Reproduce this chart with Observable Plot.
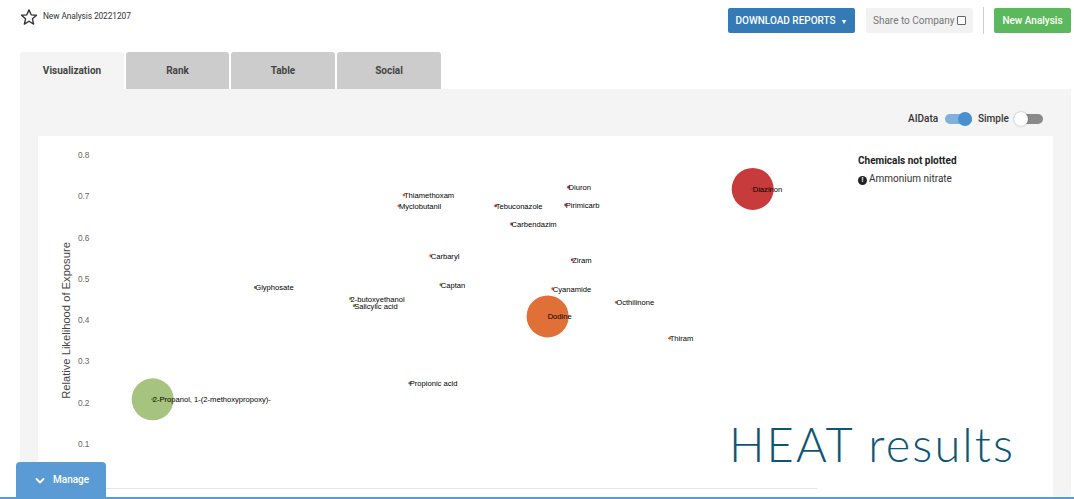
<!DOCTYPE html>
<html>
<head>
<meta charset="utf-8">
<script src="https://cdn.jsdelivr.net/npm/d3@7"></script>
<script src="https://cdn.jsdelivr.net/npm/@observablehq/plot@0.6"></script>
<style>
  html, body { margin: 0; padding: 0; width: 1074px; height: 499px; overflow: hidden; background: #fff; font-family: Roboto, "Noto Sans", sans-serif; }
  .abs { position: absolute; }
  .title { left: 43px; top: 11px; font-size: 8.4px; color: #333; letter-spacing: -0.1px; }
  .star { left: 20px; top: 8px; }
  .btn { top: 8px; height: 25px; line-height: 25px; font-size: 10px; border-radius: 2px; text-align: center; box-sizing: border-box; }
  .dl { left: 728px; width: 127px; background: #337ab7; color: #fff; font-weight: 500; }
  .share { left: 866px; width: 107px; background: #f2f2f2; color: #777; }
  .newa { left: 994px; width: 77px; background: #5cb85c; color: #fff; font-weight: 500; }
  .divider { left: 983px; top: 7px; width: 1px; height: 27px; background: #ccc; }
  .tab { top: 52px; height: 37px; line-height: 37px; font-size: 10px; font-weight: 700; color: #444; text-align: center; border-radius: 3px 3px 0 0; background: #cccccc; }
  .panel { left: 20px; top: 89px; width: 1051px; height: 420px; background: #f4f4f4; }
  .card { left: 38px; top: 136px; width: 1015px; height: 380px; background: #fff; }
  .tog-label { top: 113px; font-size: 10px; font-weight: 500; color: #333; }
  .track { top: 114px; width: 27px; height: 10px; border-radius: 5px; }
  .knob { top: 112px; width: 14px; height: 14px; border-radius: 7px; }
  .heat { left: 729px; top: 416px; font-family: Lato, sans-serif; font-weight: 300; font-size: 47px; color: #0f5675; letter-spacing: 2.1px; }
  .np-title { left: 858px; top: 155px; font-size: 10px; font-weight: 700; color: #222; }
  .np-item { left: 858px; top: 173px; font-size: 10px; color: #333; }
  .ic { display: inline-block; width: 9px; height: 9px; border-radius: 5px; background: #222; color: #fff; font-size: 7px; line-height: 9px; text-align: center; font-weight: 700; vertical-align: 0px; margin-right: 2px; }
  .manage { left: 16px; top: 462px; width: 90px; height: 40px; background: #5b9bd5; border-radius: 4px 4px 0 0; color: #fff; font-size: 10px; font-weight: 500; }
  #chart { left: 38px; top: 136px; }
</style>
</head>
<body>
<svg class="abs star" width="18" height="18" viewBox="0 0 24 24"><path d="M12 2.5l2.9 6.6 7.1.6-5.4 4.7 1.6 7-6.2-3.7-6.2 3.7 1.6-7L2 9.7l7.1-.6z" fill="none" stroke="#333" stroke-width="1.8" stroke-linejoin="round"/></svg>
<div class="abs title">New Analysis 20221207</div>
<div class="abs btn dl">DOWNLOAD REPORTS &nbsp;<span style="font-size:7px">&#9660;</span></div>
<div class="abs btn share">Share to Company <span style="display:inline-block;width:7px;height:7px;border:1px solid #666;border-radius:1px;vertical-align:-1px;background:#fff"></span></div>
<div class="abs divider"></div>
<div class="abs btn newa">New Analysis</div>

<div class="abs panel"></div>
<div class="abs tab" style="left:20px;width:104px;background:#f4f4f4;">Visualization</div>
<div class="abs tab" style="left:126px;width:103px;">Rank</div>
<div class="abs tab" style="left:231px;width:104px;">Table</div>
<div class="abs tab" style="left:337px;width:104px;">Social</div>

<div class="abs tog-label" style="left:908px;">AIData</div>
<div class="abs track" style="left:945px;background:#7fb0de;"></div>
<div class="abs knob" style="left:958px;background:#4a8fd0;"></div>
<div class="abs tog-label" style="left:978px;">Simple</div>
<div class="abs track" style="left:1016px;background:#8a8a8a;"></div>
<div class="abs knob" style="left:1014px;background:#fff;box-shadow:0 0 2px rgba(0,0,0,0.35);"></div>

<div class="abs card"></div>
<div class="abs" id="chart"></div>

<div class="abs np-title">Chemicals not plotted</div>
<div class="abs np-item"><span class="ic">!</span>Ammonium nitrate</div>

<div class="abs heat">HEAT results</div>

<div class="abs" style="left:38px;top:488px;width:779px;height:1px;background:#e4e4e4;"></div>
<div class="abs" style="left:0;top:497px;width:1074px;height:2px;background:#5b9bd5;"></div>
<div class="abs manage">
  <svg class="abs" style="left:19px;top:15px;" width="10" height="8" viewBox="0 0 10 8"><path d="M1.5 2 L5 5.5 L8.5 2" fill="none" stroke="#fff" stroke-width="1.8" stroke-linecap="round" stroke-linejoin="round"/></svg>
  <span class="abs" style="left:37px;top:12px;">Manage</span>
</div>

<script>
// Chemicals, their relative positions (x has no visible axis), likelihood (y) and risk level
const chemicals = ["2-Propanol, 1-(2-methoxypropoxy)-", "Glyphosate", "2-butoxyethanol", "Salicylic acid", "Thiamethoxam", "Myclobutanil", "Carbaryl", "Captan", "Propionic acid", "Tebuconazole", "Carbendazim", "Diuron", "Pirimicarb", "Ziram", "Cyanamide", "Dodine", "Octhilinone", "Thiram", "Diazinon"];
const hazardScore = [0.082, 0.224, 0.356, 0.361, 0.430, 0.423, 0.467, 0.481, 0.438, 0.557, 0.579, 0.658, 0.654, 0.663, 0.636, 0.629, 0.724, 0.798, 0.913];
const likelihood = [0.209, 0.480, 0.453, 0.436, 0.704, 0.678, 0.557, 0.487, 0.248, 0.678, 0.634, 0.723, 0.680, 0.547, 0.477, 0.410, 0.444, 0.357, 0.719];
const risk = ["low", "low", "low", "low", "medium", "medium", "medium", "low", "low", "high", "high", "high", "high", "high", "medium", "medium", "medium", "medium", "high"];
const highlighted = ["2-Propanol, 1-(2-methoxypropoxy)-", "Dodine", "Diazinon"];
const yTicks = [0.1, 0.2, 0.3, 0.4, 0.5, 0.6, 0.7, 0.8];
const yLabel = "Relative Likelihood of Exposure";

const levels = ["low", "medium", "high"];
const dotColors = ["#5f9a35", "#e0652a", "#c22a2e"];
const bubbleColors = ["#a6c47f", "#e07038", "#c83b3c"];

const data = chemicals.map((name, i) => ({name, x: hazardScore[i], y: likelihood[i], risk: risk[i], big: highlighted.includes(name)}));
const bubbleColor = d => bubbleColors[levels.indexOf(d.risk)];
const dotColor = d => dotColors[levels.indexOf(d.risk)];

const chart = Plot.plot({
  width: 780,
  height: 363,
  marginTop: 19,
  marginBottom: 14,
  marginLeft: 55,
  marginRight: 3,
  style: {background: "transparent", fontFamily: "'Liberation Sans', Arial, sans-serif", overflow: "visible"},
  x: {domain: [0, 1], axis: null},
  y: {domain: [0, 0.8]},
  marks: [
    Plot.axisY({ticks: yTicks, tickSize: 0, tickPadding: 4, tickFormat: d3.format(".1f"), fontSize: 8.3, fill: "#666", label: null}),
    Plot.dot(data.filter(d => d.big), {x: "x", y: "y", r: 21, fill: bubbleColor, stroke: "none"}),
    Plot.dot(data, {x: "x", y: "y", r: 1.4, fill: dotColor, stroke: "none"}),
    Plot.text(data, {x: "x", y: "y", text: "name", textAnchor: "start", dx: 0, dy: 0.5, fontSize: 7.6, fill: "#000"}),
    Plot.text([yLabel], {text: d => d, frameAnchor: "left", textAnchor: "middle", rotate: -90, dx: -27, fontSize: 11.2, fill: "#444"})
  ]
});
document.getElementById("chart").appendChild(chart);
</script>
</body>
</html>
